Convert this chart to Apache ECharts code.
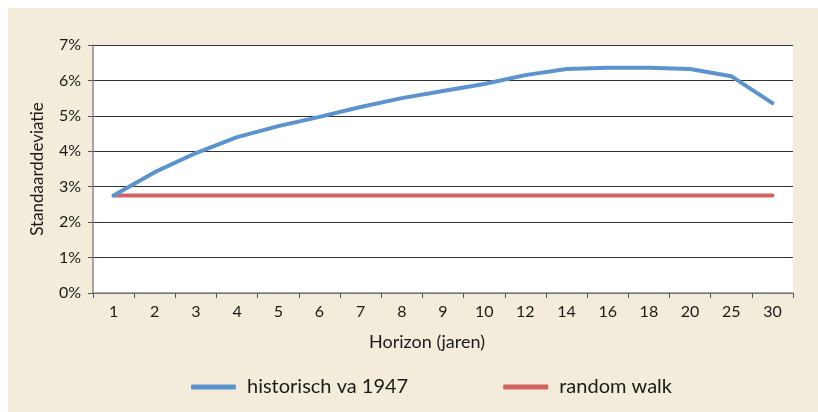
<!DOCTYPE html>
<html>
<head>
<meta charset="utf-8">
<script src="https://cdn.jsdelivr.net/npm/echarts@6/dist/echarts.min.js"></script>
<style>
    body { margin: 0; background: #fff; }
    .wrap { position: relative; width: 818px; height: 412px; }
    .bg { position: absolute; left: 8px; top: 8px; right: 0; bottom: 0; background: #F3ECDA; }
    #main { position: absolute; left: 0; top: 0; width: 818px; height: 412px; }
</style>
</head>
<body>
<div class="wrap">
    <div class="bg"></div>
    <div id="main"></div>
</div>
<script>
    var myChart = echarts.init(document.getElementById('main'));

    let color = ["#5B93CE", "#D1625F"];
    let fontFamily = 'Lato, "Liberation Sans", sans-serif';

    let horizon = ["1", "2", "3", "4", "5", "6", "7", "8", "9", "10", "12", "14", "16", "18", "20", "25", "30"];
    let historisch = [2.75, 3.41, 3.95, 4.40, 4.71, 4.97, 5.25, 5.50, 5.70, 5.90, 6.15, 6.32, 6.36, 6.36, 6.32, 6.12, 5.36];
    let randomWalk = [2.75, 2.75, 2.75, 2.75, 2.75, 2.75, 2.75, 2.75, 2.75, 2.75, 2.75, 2.75, 2.75, 2.75, 2.75, 2.75, 2.75];
    let seriesNames = ["historisch va 1947", "random walk"];

    var option = {
        backgroundColor: 'transparent',
        color: color,
        textStyle: { fontFamily: fontFamily },
        legend: {
            left: 186,
            top: 372,
            itemWidth: 45,
            itemHeight: 5,
            itemGap: 95,
            icon: 'roundRect',
            textStyle: { fontSize: 20, color: '#1a1a1a', fontFamily: fontFamily, padding: [0, 0, 0, 6] },
            data: seriesNames
        },
        grid: {
            left: 93,
            right: 25,
            top: 45,
            bottom: 119,
            show: true,
            backgroundColor: '#ffffff',
            borderWidth: 0
        },
        xAxis: {
            type: 'category',
            boundaryGap: true,
            data: horizon,
            name: 'Horizon (jaren)',
            nameLocation: 'middle',
            nameGap: 40,
            nameTextStyle: { fontSize: 18, color: '#1a1a1a', padding: [0, 32, 0, 0] },
            axisLine: { lineStyle: { color: '#8a8a8a', width: 1.5 } },
            axisTick: { show: true, length: 5, lineStyle: { color: '#555' } },
            axisLabel: { fontSize: 16, color: '#1a1a1a', margin: 11 }
        },
        yAxis: {
            type: 'value',
            min: 0,
            max: 7,
            interval: 1,
            name: 'Standaarddeviatie',
            nameLocation: 'middle',
            nameGap: 47,
            nameTextStyle: { fontSize: 17, color: '#1a1a1a' },
            axisLine: { show: true, lineStyle: { color: '#8a8a8a', width: 1.5 } },
            axisTick: { show: true, length: 5, lineStyle: { color: '#555' } },
            axisLabel: { fontSize: 16, color: '#1a1a1a', margin: 12, formatter: '{value}%' },
            splitLine: { lineStyle: { color: '#333', width: 1 } }
        },
        series: [{
            name: seriesNames[0],
            type: 'line',
            data: historisch,
            symbol: 'none',
            lineStyle: { width: 4, color: color[0], cap: 'round' },
            z: 3
        }, {
            name: seriesNames[1],
            type: 'line',
            data: randomWalk,
            symbol: 'none',
            lineStyle: { width: 4, color: color[1], cap: 'round' },
            z: 2
        }]
    };
    myChart.setOption(option);
</script>
</body>
</html>
